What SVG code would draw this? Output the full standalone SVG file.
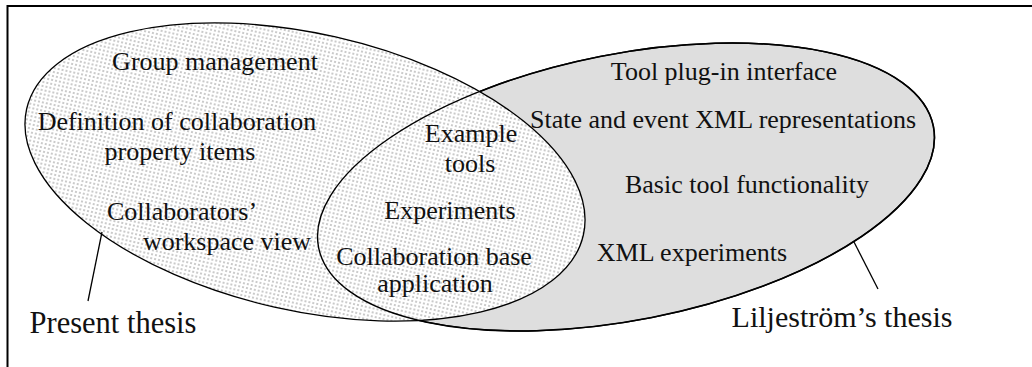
<svg xmlns="http://www.w3.org/2000/svg" width="1032" height="367" viewBox="0 0 1032 367">
  <defs>
    <pattern id="dots" width="4" height="4" patternUnits="userSpaceOnUse">
      <rect width="4" height="4" fill="#ffffff"/>
      <circle cx="2" cy="2" r="0.95" fill="#b4b4b4"/>
    </pattern>
  </defs>
  <style>
    text { font-family: 'Liberation Serif', 'Times New Roman', Times, 'DejaVu Serif', serif; fill: #111; text-anchor: middle; }
    .lbl { font-size: 26px; }
    .big { font-size: 30px; }
    .edge { fill: none; stroke: #000; stroke-width: 1.3; }
    .frame { fill: none; stroke: #000; stroke-width: 2; }
  </style>
  <rect width="1032" height="367" fill="#ffffff"/>
  <g id="frame">
    <polyline class="frame" points="7.5,367 7.5,6 1032,6"/>
  </g>
  <g id="liljestrom-thesis">
    <ellipse cx="626" cy="187" rx="313.3" ry="133.1" transform="rotate(-11.15 626 187)" fill="#dedede" stroke="#000" stroke-width="1.6"/>
  </g>
  <g id="present-thesis">
    <ellipse cx="305" cy="172" rx="285.4" ry="138.5" transform="rotate(12.75 305 172)" fill="url(#dots)" stroke="#000" stroke-width="1.3"/>
  </g>
  <g id="liljestrom-outline">
    <ellipse cx="626" cy="187" rx="313.3" ry="133.1" transform="rotate(-11.15 626 187)" fill="none" stroke="#000" stroke-width="1.4"/>
  </g>
  <g id="connectors">
    <line class="edge" x1="102" y1="232" x2="88" y2="301"/>
    <line class="edge" x1="854" y1="242" x2="878" y2="289"/>
  </g>
  <g id="present-items" font-family="Liberation Serif, serif">
    <text class="lbl" x="215" y="70">Group management</text>
    <text class="lbl" x="177" y="130">Definition of collaboration</text>
    <text class="lbl" x="180" y="160">property items</text>
    <text class="lbl" x="182" y="220">Collaborators’</text>
    <text class="lbl" x="227" y="250">workspace view</text>
  </g>
  <g id="shared-items">
    <text class="lbl" x="471" y="142">Example</text>
    <text class="lbl" x="470" y="172">tools</text>
    <text class="lbl" x="450" y="219">Experiments</text>
    <text class="lbl" x="434" y="265">Collaboration base</text>
    <text class="lbl" x="435" y="292">application</text>
  </g>
  <g id="liljestrom-items">
    <text class="lbl" x="724" y="80">Tool plug-in interface</text>
    <text class="lbl" x="723" y="128">State and event XML representations</text>
    <text class="lbl" x="747" y="193">Basic tool functionality</text>
    <text class="lbl" x="692" y="261">XML experiments</text>
  </g>
  <g id="label-present">
    <text class="big" x="113" y="333" style="font-size:30.5px">Present thesis</text>
  </g>
  <g id="label-liljestrom">
    <text class="big" x="842" y="327">Liljeström’s thesis</text>
  </g>
</svg>
